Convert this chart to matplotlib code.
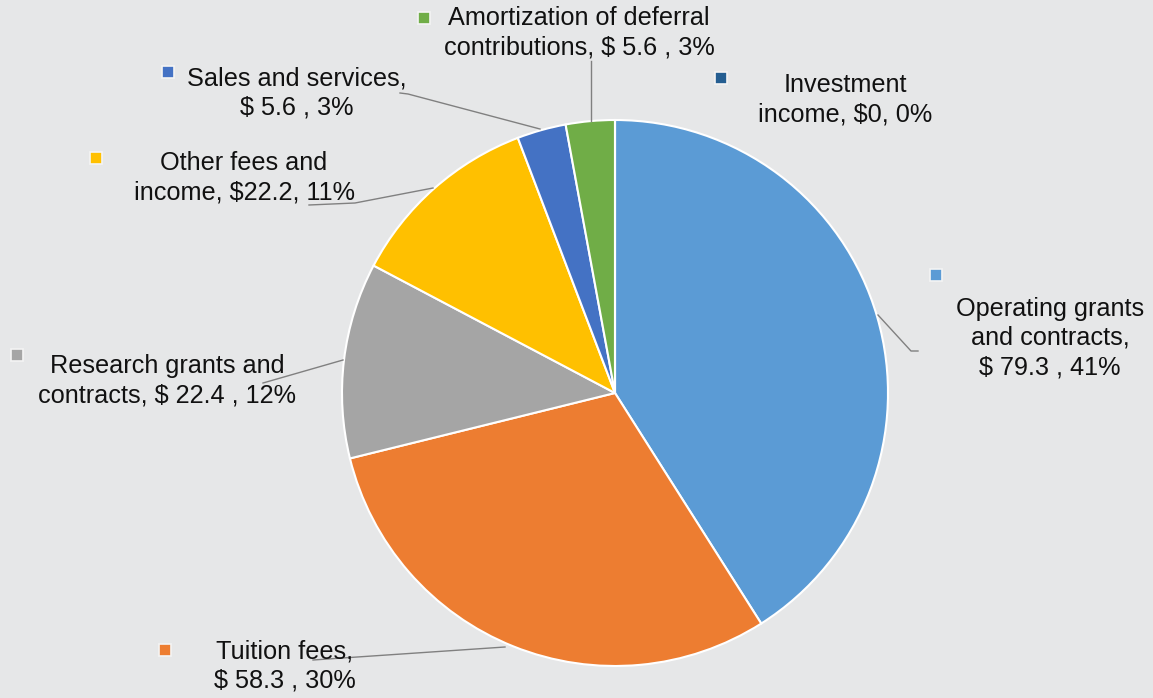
import matplotlib
matplotlib.use("Agg")
import matplotlib.pyplot as plt
from matplotlib.patches import Rectangle

plt.rcParams['font.family'] = ['Liberation Sans', 'DejaVu Sans']
plt.rcParams['text.parse_math'] = False

categorias = ['Operating grants and contracts', 'Tuition fees',
              'Research grants and contracts', 'Other fees and income',
              'Sales and services', 'Amortization of deferral contributions',
              'Investment income']
valores = [79.3, 58.3, 22.4, 22.2, 5.6, 5.6, 0.0]
porcentajes = ['41%', '30%', '12%', '11%', '3%', '3%', '0%']
etiquetas = ['Operating grants\nand contracts,\n$ 79.3 , 41%',
             'Tuition fees,\n$ 58.3 , 30%',
             'Research grants and\ncontracts, $ 22.4 , 12%',
             'Other fees and\nincome, $22.2, 11%',
             'Sales and services,\n$ 5.6 , 3%',
             'Amortization of deferral\ncontributions, $ 5.6 , 3%',
             'Investment\nincome, $0, 0%']
colores = ['#5b9bd5', '#ed7d31', '#a5a5a5', '#ffc000', '#4472c4', '#70ad47', '#255e91']

W, H = 1153, 698
fondo = '#e6e7e8'
fig = plt.figure(figsize=(W / 100, H / 100), dpi=100, facecolor=fondo)

# pie axes: centre (615, 393), radius 272 px
cx, cy, r = 615, 393, 273
ax = fig.add_axes([(cx - r) / W, (H - cy - r) / H, 2 * r / W, 2 * r / H])
ax.set_facecolor(fondo)
ax.pie(valores, colors=colores, startangle=90, counterclock=False,
       wedgeprops=dict(edgecolor='white', linewidth=1.5), radius=1.0)
ax.set_xlim(-1.0, 1.0)
ax.set_ylim(-1.0, 1.0)
ax.axis('off')

# overlay in pixel coordinates for labels and leader lines
ov = fig.add_axes([0, 0, 1, 1], facecolor='none')
ov.set_xlim(0, W)
ov.set_ylim(H, 0)
ov.axis('off')

# (text centre x, text centre y, marker x, marker y)
pos = [
    (1050, 338, 936, 275),
    (285, 666, 165, 650),
    (167, 381, 17, 355),
    (244, 178, 96, 158),
    (297, 93, 168, 72),
    (579, 33, 424, 18),
    (845, 100, 721, 78),
]
for etiqueta, color, (tx, ty, mx, my) in zip(etiquetas, colores, pos):
    ov.text(tx, ty, etiqueta, ha='center', va='center', fontsize=18.2,
            color='#111111', linespacing=1.27)
    ov.add_patch(Rectangle((mx - 6, my - 6), 12, 12, facecolor=color,
                           edgecolor='#f4f4f4', linewidth=1.2))

# leader lines
lineas = [
    ([878, 911, 918], [315, 351, 351]),
    ([313, 505], [660, 647]),
    ([263, 343], [383, 360]),
    ([309, 355, 433], [205, 203, 188]),
    ([400, 408, 540], [93, 94, 129]),
    ([591, 591], [61, 121]),
]
for xs, ys in lineas:
    ov.plot(xs, ys, color='#808080', linewidth=1.0)

fig.savefig('out.png', dpi=100, facecolor=fondo)
